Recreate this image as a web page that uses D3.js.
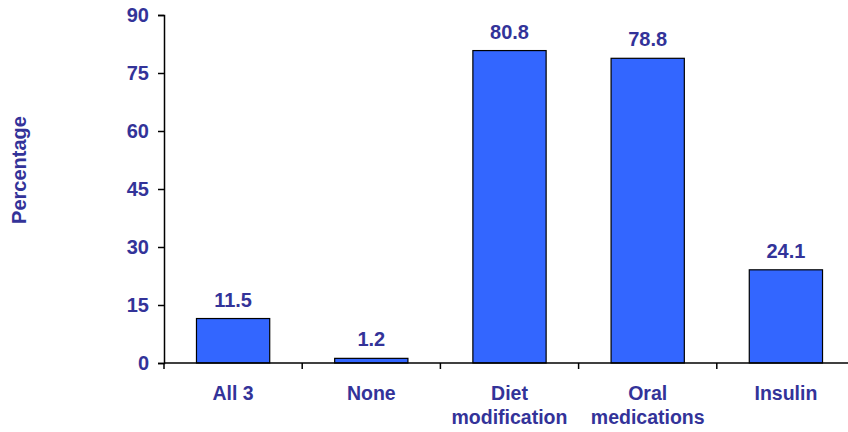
<!DOCTYPE html>
<html>
<head>
<meta charset="utf-8">
<script src="https://cdn.jsdelivr.net/npm/d3@7"></script>
<style>
  html, body { margin: 0; padding: 0; background: #fff; }
  svg text { font-family: "Liberation Sans", Arial, sans-serif; font-weight: bold; fill: #333399; }
</style>
</head>
<body>
<svg id="chart" width="848" height="432"></svg>
<script>
const categories = [["All 3"], ["None"], ["Diet", "modification"], ["Oral", "medications"], ["Insulin"]];
const values = [11.5, 1.2, 80.8, 78.8, 24.1];
const yTicks = [0, 15, 30, 45, 60, 75, 90];
const yTitle = "Percentage";

const svg = d3.select("#chart");
const plotLeft = 164, plotRight = 855, plotTop = 15, plotBottom = 363;

const keys = categories.map(c => c.join(" "));
const x = d3.scaleBand().domain(keys).range([plotLeft, plotRight]).paddingInner(0.47).paddingOuter(0.235);
const y = d3.scaleLinear().domain([0, 90]).range([plotBottom, plotTop]);

// bars
svg.append("g").selectAll("rect").data(values).join("rect")
  .attr("x", (d, i) => x(keys[i]))
  .attr("y", d => y(d))
  .attr("width", x.bandwidth())
  .attr("height", d => y(0) - y(d))
  .attr("fill", "#3366ff")
  .attr("stroke", "#000")
  .attr("stroke-width", 1.2);

// value labels
svg.append("g").selectAll("text").data(values).join("text")
  .attr("x", (d, i) => x(keys[i]) + x.bandwidth() / 2)
  .attr("y", d => y(d) - 12)
  .attr("text-anchor", "middle")
  .attr("font-size", 20)
  .text(d => d.toFixed(1));

// y axis
const yAxis = svg.append("g").attr("transform", `translate(${plotLeft},0)`)
  .call(d3.axisLeft(y).tickValues(yTicks).tickSize(6).tickPadding(9));
yAxis.select(".domain").attr("stroke", "#000").attr("stroke-width", 1.5);
yAxis.selectAll(".tick line").attr("stroke", "#000").attr("stroke-width", 1.5);
yAxis.selectAll(".tick text").attr("font-size", 20).attr("fill", "#333399")
  .style("font-family", "Liberation Sans, Arial, sans-serif").style("font-weight", "bold");

// x axis line with ticks at band boundaries
const step = x.step();
const xAxisG = svg.append("g");
xAxisG.append("line").attr("x1", plotLeft).attr("x2", plotRight).attr("y1", plotBottom).attr("y2", plotBottom)
  .attr("stroke", "#000").attr("stroke-width", 1.5);
const boundaries = d3.range(keys.length + 1).map(i => plotLeft + i * step);
xAxisG.selectAll("line.tk").data(boundaries).join("line").attr("class", "tk")
  .attr("x1", d => d).attr("x2", d => d).attr("y1", plotBottom).attr("y2", plotBottom + 6)
  .attr("stroke", "#000").attr("stroke-width", 1.5);

// category labels
const lab = svg.append("g").selectAll("text").data(categories).join("text")
  .attr("x", (d, i) => x(keys[i]) + x.bandwidth() / 2)
  .attr("y", 400)
  .attr("text-anchor", "middle")
  .attr("font-size", 19.5);
lab.selectAll("tspan").data(d => d).join("tspan")
  .attr("x", function() { return d3.select(this.parentNode).attr("x"); })
  .attr("dy", (d, i) => i === 0 ? 0 : 24)
  .text(d => d);

// y title
svg.append("text")
  .attr("transform", "translate(26,170) rotate(-90)")
  .attr("text-anchor", "middle")
  .attr("font-size", 20)
  .text(yTitle);
</script>
</body>
</html>
